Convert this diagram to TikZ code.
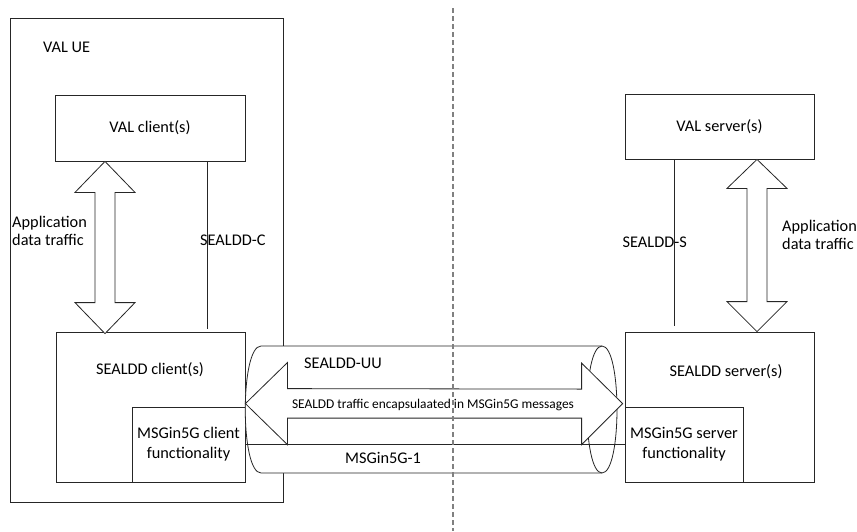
\documentclass[tikz,border=0pt]{standalone}
\usepackage{fontspec}
\setmainfont{Carlito}
\usetikzlibrary{calc}
\begin{document}
\begin{tikzpicture}[x=1pt,y=-1pt,
  every node/.style={font=\fontsize{16.3}{20}\selectfont},
  box/.style={draw=black!85, line width=0.8pt, inner sep=0pt, fill=white},
  txt/.style={inner sep=0pt, align=center},
  small/.style={inner sep=0pt, font=\fontsize{13.4}{16}\selectfont},
  conn/.style={draw=black!85, line width=0.8pt},
  fat/.style={draw=black!85, line width=0.8pt, fill=white, line join=miter},
  sep/.style={draw=black!50, line width=1.3pt, dash pattern=on 5pt off 3pt}]
\useasboundingbox (0,0) rectangle (857,531);

% boxes
\node[box, minimum width=273pt, minimum height=484pt] (vale) at (146.5,260) {};
\node[box, minimum width=190pt, minimum height=66pt] (valc) at (150,128) {VAL client(s)};
\node[box, minimum width=189pt, minimum height=150pt] (sc) at (150.5,407) {};
\node[box, minimum width=113pt, minimum height=75pt, align=center] (mc) at (188.5,444.5) {MSGin5G client\\functionality};
\node[box, minimum width=189pt, minimum height=65pt] (vals) at (719.5,126.5) {VAL server(s)};
\node[box, minimum width=189pt, minimum height=150pt] (ss) at (719.5,407) {};
\node[box, minimum width=118pt, minimum height=75pt, align=center] (ms) at (684,444.5) {MSGin5G server\\functionality};

\node[txt, anchor=west] (tue) at (43,47) {VAL UE};
\node[txt] (tsc) at (150,370) {SEALDD client(s)};
\node[txt] (tss) at (726,372) {SEALDD server(s)};

% reference lines
\coordinate (cx) at (207,0);
\coordinate (sx) at (674,0);
\draw[conn] (valc.south -| cx) -- ($(sc.north -| cx)+(0,-3)$);
\draw[conn] (vals.south -| sx) -- ($(ss.north -| sx)+(0,-6)$);
\node[txt, anchor=west] (tc) at (200,240) {SEALDD-C};
\node[txt, anchor=east] (ts) at (687,242) {SEALDD-S};

% application data traffic arrows
\coordinate (la) at (105,0);
\coordinate (ra) at (757,0);
\path[fat] (valc.south -| la) -- ++(30,31) -- ++(-20,0) -- ($(sc.north -| la)+(10,-29)$)
  -- ++(20,0) -- ($(sc.north -| la)+(0,2)$) -- ++(-30,-31) -- ++(20,0)
  -- ($(valc.south -| la)+(-10,31)$) -- ++(-20,0) -- cycle;
\path[fat] (vals.south -| ra) -- ++(30,29) -- ++(-20,0) -- ($(ss.north -| ra)+(10,-30)$)
  -- ++(20,0) -- (ss.north -| ra) -- ++(-30,-30) -- ++(20,0)
  -- ($(vals.south -| ra)+(-10,29)$) -- ++(-20,0) -- cycle;
\node[txt, anchor=west, align=left, font=\fontsize{16.3}{18}\selectfont] (tal) at (12,231) {Application\\data traffic};
\node[txt, anchor=west, align=left, font=\fontsize{16.3}{17.5}\selectfont] (tar) at (782,235) {Application\\data traffic};

% tube
\coordinate (tl) at (261,346);
\coordinate (tr) at (602,346);
\coordinate (bl) at (261,473);
\coordinate (br) at (602,473);
\path[fat] (tl) -- (tr) .. controls ($(tr)+(20,0)$) and ($(br)+(20,0)$) .. (br)
  -- (bl) .. controls ($(bl)+(-21,0)$) and ($(tl)+(-21,0)$) .. (tl) -- cycle;
\draw[conn] (tr) .. controls ($(tr)+(-20,0)$) and ($(br)+(-20,0)$) .. (br);

% big double arrow
\coordinate (al) at ($(mc.north east)+(0,-3)$);
\coordinate (ar) at ($(ms.north west)+(-2,-3)$);
\path[fat] (al) -- ++(42,-41) -- ++(0,26) -- ($(ar)+(-41,-14.5)$) -- ++(0,-26)
  -- (ar) -- ++(-41,41) -- ++(0,-26.5) -- ($(al)+(42,14.5)$) -- ++(0,26.5) -- cycle;

\draw[conn] (mc.east) -- (mc.east -| ms.west);

\node[txt] (tuu) at (343,363) {SEALDD-UU};
\node[small] (tenc) at (433,405) {SEALDD traffic encapsulaated in MSGin5G messages};
\node[txt] (tm1) at (383,458) {MSGin5G-1};

% separator
\coordinate (dtop) at (453,8);
\coordinate (dbot) at (453,531);
\draw[sep] (dtop) -- (dbot);
\end{tikzpicture}
\end{document}
